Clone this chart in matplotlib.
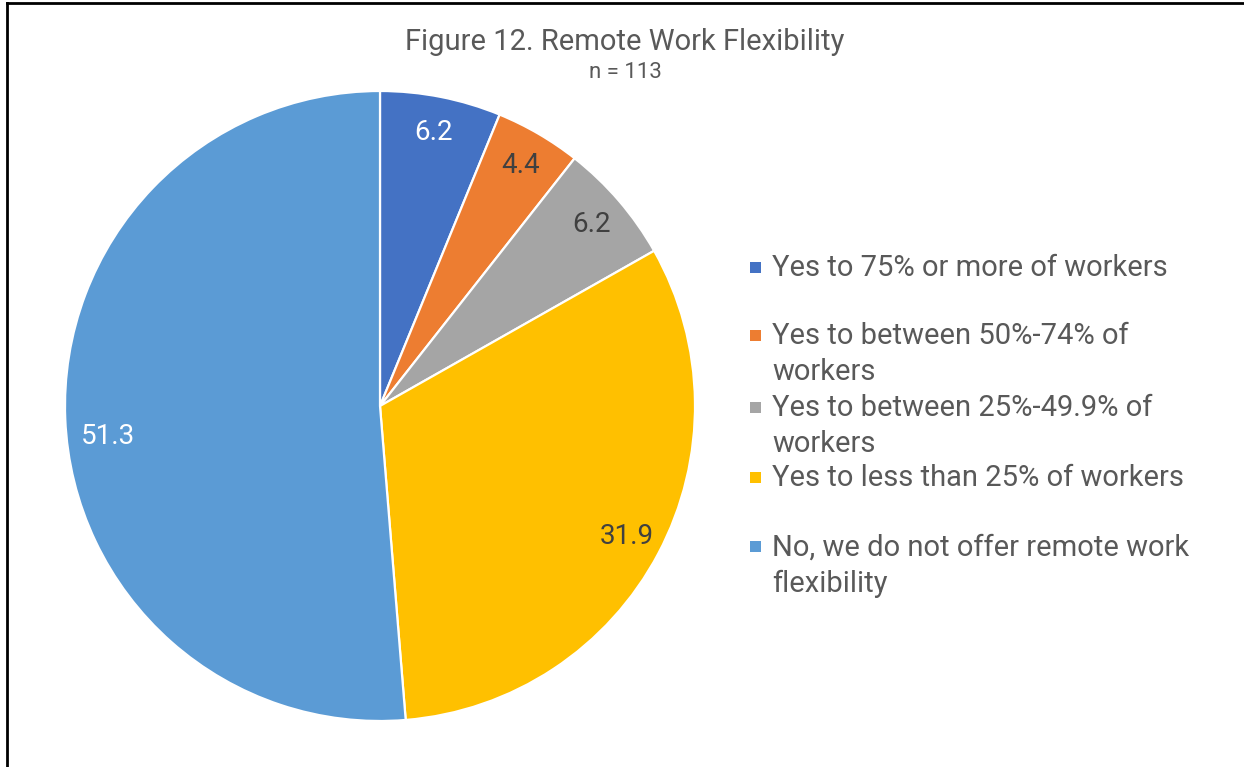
import matplotlib
matplotlib.use('Agg')
import matplotlib.pyplot as plt
from matplotlib.lines import Line2D
from matplotlib.patches import Rectangle

plt.rcParams['font.family'] = ['Roboto', 'DejaVu Sans']

# --- data ---
categorias = [
    'Yes to 75% or more of workers',
    'Yes to between 50%-74% of\nworkers',
    'Yes to between 25%-49.9% of\nworkers',
    'Yes to less than 25% of workers',
    'No, we do not offer remote work\nflexibility',
]
valores = [6.2, 4.4, 6.2, 31.9, 51.3]
cores = ['#4472C4', '#ED7D31', '#A5A5A5', '#FFC000', '#5B9BD5']
cor_rotulo = ['white', '#404040', '#404040', '#404040', 'white']

W, H = 1244, 767
fig = plt.figure(figsize=(W / 100, H / 100), dpi=100)

# pie axes: center (380, 406) px, radius 315 px
cx, cy, r = 380, 406, 315
ax = fig.add_axes([(cx - r) / W, (H - cy - r) / H, 2 * r / W, 2 * r / H])
wedges, _, autotexts = ax.pie(
    valores, colors=cores, startangle=90, counterclock=False,
    radius=1, autopct=lambda p: f'{p:.1f}', pctdistance=0.885,
    wedgeprops=dict(edgecolor='white', linewidth=1.6),
    textprops=dict(fontsize=20),
)
for t, c in zip(autotexts, cor_rotulo):
    t.set_color(c)
# Excel "best fit" puts the big slice label a bit lower
x0, y0 = autotexts[4].get_position()
autotexts[4].set_position((x0 + 0.02, y0 - 0.06))
ax.set_xlim(-1, 1)
ax.set_ylim(-1, 1)
ax.set_aspect('equal')

# title
fig.text(625 / W, 1 - 42 / H, 'Figure 12. Remote Work Flexibility',
         ha='center', va='center', fontsize=21, color='#595959')
fig.text(625 / W, 1 - 73 / H, 'n = 113',
         ha='center', va='center', fontsize=16, color='#595959')

# legend (manual, Excel-like spacing)
leg_y = [267, 335, 407, 477, 546]  # pixel y of first text line center
for lab, c, y in zip(categorias, cores, leg_y):
    fig.add_artist(Rectangle((750 / W, 1 - (y + 6) / H), 11 / W, 11 / H,
                             transform=fig.transFigure, facecolor=c,
                             edgecolor='none'))
    fig.text(772 / W, 1 - (y - 12.5) / H, lab, ha='left', va='top',
             fontsize=21, color='#595959', linespacing=1.36)

# border (only left and top visible)
fig.add_artist(Line2D([7.5 / W, 7.5 / W], [0, 1 - 3 / H], color='black',
                      linewidth=2, transform=fig.transFigure))
fig.add_artist(Line2D([7.5 / W, 1], [1 - 3 / H, 1 - 3 / H], color='black',
                      linewidth=2, transform=fig.transFigure))

fig.savefig('out.png', dpi=100)
